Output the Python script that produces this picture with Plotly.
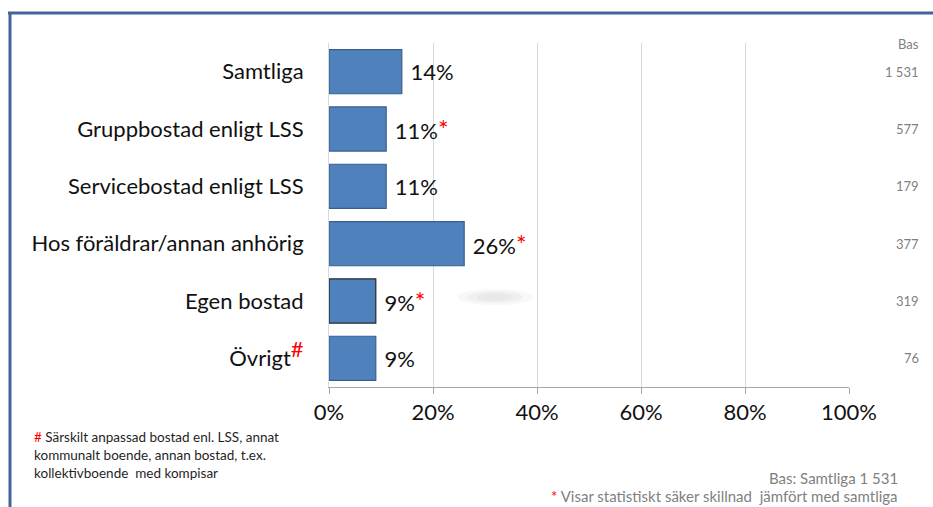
import plotly.graph_objects as go

categories = ["Samtliga", "Gruppbostad enligt LSS", "Servicebostad enligt LSS",
              "Hos föräldrar/annan anhörig", "Egen bostad", "Övrigt"]
values = [14, 11, 11, 26, 9, 9]
significant = [False, True, False, True, True, False]
bas = ["1 531", "577", "179", "377", "319", "76"]
x_ticks = [0, 20, 40, 60, 80, 100]
x_ticklabels = ["0%", "20%", "40%", "60%", "80%", "100%"]

W, H = 933, 507
L, R, T, B = 329, 84, 43, 120
PW, PH = W - L - R, H - T - B

def px(x):
    return (x - L) / PW

def py(y):
    return (H - B - y) / PH

FONT = "Lato, 'Open Sans', sans-serif"
RED = "#FF0000"

tick_text = []
for c in categories:
    if c == "Övrigt":
        tick_text.append(c + f"<sup><span style='color:{RED};font-size:22px'>#</span></sup>")
    else:
        tick_text.append(c)

bar_text = ["&nbsp;" + f"{v}%" +
            (f"<span style='color:{RED};font-size:25px'>*</span>" if s else "")
            for v, s in zip(values, significant)]

line_colors = ["#3A5F8F", "#3A5F8F", "#3A5F8F", "#3A5F8F", "#262626", "#3A5F8F"]

fig = go.Figure(go.Bar(
    y=categories, x=values, orientation="h",
    marker=dict(color="#4F81BD", line=dict(color=line_colors, width=1.2)),
    text=bar_text, textposition="outside", cliponaxis=False,
    textfont=dict(family=FONT, size=22, color="#111111"),
    width=0.77,
))

annotations = [dict(x=px(921), y=py(44), xref="paper", yref="paper", text="Bas",
                    showarrow=False, xanchor="right", yanchor="middle",
                    font=dict(family=FONT, size=13, color="#7F7F7F"))]
for c, b in zip(categories, bas):
    annotations.append(dict(x=px(921), y=c, xref="paper", yref="y", text=b,
                            showarrow=False, xanchor="right", yanchor="middle",
                            font=dict(family=FONT, size=13, color="#7F7F7F")))

foot = [f"<span style='color:{RED}'>#</span> Särskilt anpassad bostad enl. LSS, annat",
        "kommunalt boende, annan bostad, t.ex.",
        "kollektivboende  med kompisar"]
for i, t in enumerate(foot):
    annotations.append(dict(x=px(32), y=py(437 + 18 * i), xref="paper", yref="paper",
                            text=t, showarrow=False, xanchor="left", yanchor="middle",
                            font=dict(family=FONT, size=13.5, color="#1F1F1F")))

annotations.append(dict(x=px(900), y=py(478), xref="paper", yref="paper",
                        text="Bas: Samtliga 1 531", showarrow=False,
                        xanchor="right", yanchor="middle",
                        font=dict(family=FONT, size=15, color="#7F7F7F")))
annotations.append(dict(x=px(900), y=py(496), xref="paper", yref="paper",
                        text=f"<span style='color:{RED}'>*</span> Visar statistiskt säker skillnad  jämfört med samtliga",
                        showarrow=False, xanchor="right", yanchor="middle",
                        font=dict(family=FONT, size=15, color="#7F7F7F")))

shapes = [
    dict(type="line", xref="paper", yref="paper", x0=px(8), x1=px(933), y0=py(13), y1=py(13),
         line=dict(color="#41649A", width=3)),
    dict(type="line", xref="paper", yref="paper", x0=px(10), x1=px(10), y0=py(12), y1=py(507),
         line=dict(color="#41649A", width=3)),
]
# faint smudge
for w, h, op in [(38, 8, 0.07), (28, 6, 0.08), (18, 4, 0.08)]:
    shapes.append(dict(type="circle", xref="paper", yref="paper",
                       x0=px(495 - w), x1=px(495 + w), y0=py(297 - h), y1=py(297 + h),
                       fillcolor="#9A9A9A", opacity=op, line=dict(width=0), layer="below"))

fig.update_layout(
    width=W, height=H,
    margin=dict(l=L, r=R, t=T, b=B),
    paper_bgcolor="white", plot_bgcolor="white",
    showlegend=False,
    xaxis=dict(range=[0, 100], tickvals=x_ticks, ticktext=x_ticklabels,
               showgrid=True, gridcolor="#D9D9D9", gridwidth=1,
               showline=True, linecolor="#A6A6A6", linewidth=1,
               ticks="outside", ticklen=6, tickcolor="#A6A6A6",
               tickfont=dict(family=FONT, size=22, color="#111111"),
               zeroline=False, fixedrange=True),
    yaxis=dict(categoryorder="array", categoryarray=categories[::-1],
               tickvals=categories, ticktext=tick_text,
               showline=True, linecolor="#D9D9D9", linewidth=1,
               ticks="outside", ticklen=20, tickcolor="rgba(0,0,0,0)",
               tickfont=dict(family=FONT, size=22, color="#111111"),
               showgrid=False, zeroline=False, fixedrange=True),
    annotations=annotations, shapes=shapes,
)

fig.write_html("out.html", config={"displayModeBar": False},
               post_script="document.body.style.margin='0';document.body.style.overflow='hidden';")
